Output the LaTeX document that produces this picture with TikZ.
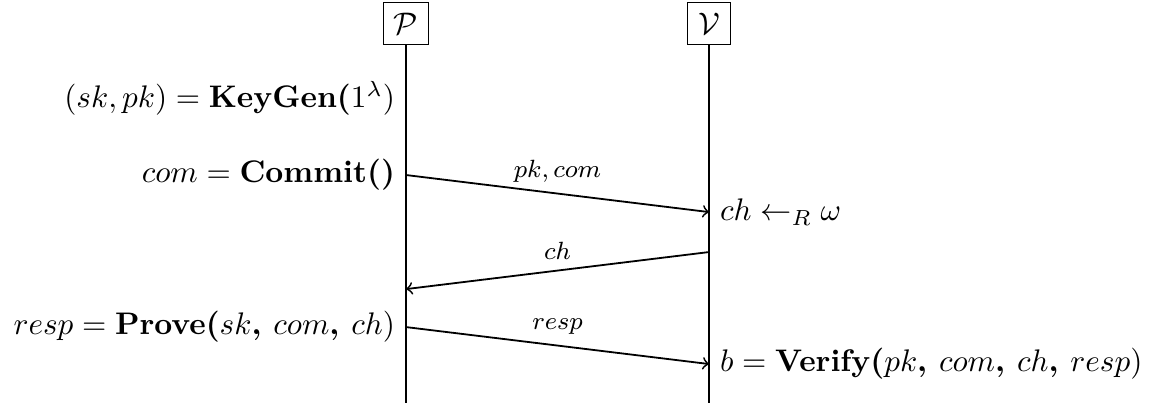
\documentclass[tikz,border=0pt]{standalone}
\usetikzlibrary{positioning}

\begin{document}
\begin{tikzpicture}[every node/.style={scale=1.04},
    msg/.style={->, semithick},
    lbl/.style={above, font=\fontsize{7.6}{9}\selectfont}]
    \useasboundingbox (0,0) rectangle (13.47,-4.768);

    % parties
    \node[draw] (P) at (4.756,-0.276) {$\mathcal{P}$};
    \node[draw] (V) at (8.306,-0.276) {$\mathcal{V}$};
    \coordinate (Pend) at (4.756,-4.721);
    \coordinate (Vend) at (8.306,-4.721);
    \draw[semithick] (P) -- (Pend);
    \draw[semithick] (V) -- (Vend);

    % message end points
    \coordinate (p1) at (4.756,-2.050);
    \coordinate (v1) at (8.306,-2.484);
    \coordinate (v2) at (8.306,-2.952);
    \coordinate (p2) at (4.756,-3.386);
    \coordinate (p3) at (4.756,-3.831);
    \coordinate (v3) at (8.306,-4.264);

    % prover side
    \node[left] (keygen) at (4.756,-1.148) {$(sk,pk) = \textbf{KeyGen(}1^\lambda)$};
    \node[left] (commit) at (p1) {$com = \textbf{Commit()}$};
    \node[left] (prove) at (p3) {$resp = \textbf{Prove(}sk\textbf{, }com\textbf{, }ch)$};

    % verifier side
    \node[right] (chal) at (v1) {$ch \leftarrow_R \omega$};
    \node[right] (verify) at (v3) {$b = \textbf{Verify(}pk\textbf{, }com\textbf{, }ch\textbf{, }resp)$};

    % messages
    \draw[msg] (p1) -- node[lbl] {$pk, com$} (v1);
    \draw[msg] (v2) -- node[lbl] {$ch$} (p2);
    \draw[msg] (p3) -- node[lbl] {$resp$} (v3);
\end{tikzpicture}
\end{document}
